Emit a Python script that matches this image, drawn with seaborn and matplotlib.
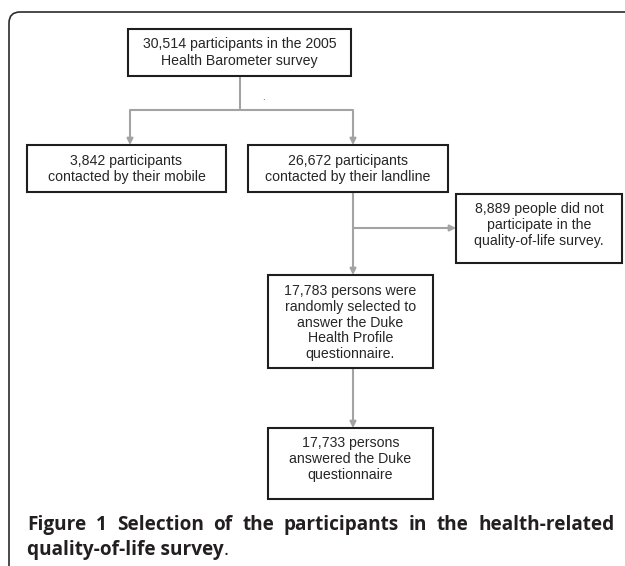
import matplotlib
matplotlib.use("Agg")
import matplotlib.pyplot as plt
from matplotlib.patches import Rectangle, FancyBboxPatch
import seaborn as sns

# ---------------- data ----------------
node_ids = ["survey", "mobile", "landline", "nonpart", "selected", "answered"]
node_counts = [30514, 3842, 26672, 8889, 17783, 17733]
node_text = [
    ["{n} participants in the 2005", "Health Barometer survey"],
    ["{n} participants", "contacted by their mobile"],
    ["{n} participants", "contacted by their landline"],
    ["{n} people did not", "participate in the", "quality-of-life survey."],
    ["{n} persons were", "randomly selected to", "answer the Duke",
     "Health Profile", "questionnaire."],
    ["{n} persons", "answered the Duke", "questionnaire"],
]
caption_line1 = "Figure 1 Selection of the participants in the health-related"
caption_line2 = "quality-of-life survey"

# ---------------- layout (pixel coordinates) ----------------
W, H = 625, 566
box_rect = {  # x0, y0, x1, y1
    "survey":   (128, 29, 351, 76),
    "mobile":   (27, 145, 226, 192),
    "landline": (248, 145, 448, 192),
    "nonpart":  (456, 194, 622, 263),
    "selected": (268, 275, 433, 368),
    "answered": (268, 428, 433, 499),
}
first_baseline = {"survey": 48, "mobile": 165, "landline": 165,
                  "nonpart": 213, "selected": 295, "answered": 447}
line_gap = {"survey": 17, "mobile": 15.5, "landline": 15.5,
            "nonpart": 16, "selected": 15.8, "answered": 16}

box_color = "#1e1e1e"
text_color = "#262626"
link_color = "#a3a3a3"

sns.set_theme(style="white")
plt.rcParams["font.family"] = ["Liberation Sans", "DejaVu Sans"]

fig = plt.figure(figsize=(W / 100, H / 100), dpi=100)
fig.patch.set_facecolor("white")
ax = fig.add_axes([0, 0, 1, 1])
ax.set_xlim(0, W)
ax.set_ylim(H, 0)
ax.axis("off")
sns.despine(ax=ax, left=True, bottom=True)

# outer rounded frame (open on right / bottom)
frame = FancyBboxPatch((9, 12), 800, 800,
                       boxstyle="round,pad=0,rounding_size=11",
                       fill=False, ec="#2b2b2b", lw=1.2, zorder=1)
ax.add_patch(frame)

# boxes and their text
for nid, cnt, lines in zip(node_ids, node_counts, node_text):
    x0, y0, x1, y1 = box_rect[nid]
    ax.add_patch(Rectangle((x0, y0), x1 - x0, y1 - y0, fill=True, fc="white",
                           ec=box_color, lw=1.5, zorder=3))
    cx = (x0 + x1) / 2
    for i, ln in enumerate(lines):
        ax.text(cx, first_baseline[nid] + i * line_gap[nid],
                ln.format(n=f"{cnt:,}"), ha="center", va="baseline",
                fontsize=10.2, color=text_color, zorder=4)


def seg(x0, y0, x1, y1):
    ax.plot([x0, x1], [y0, y1], color=link_color, lw=1.5,
            solid_capstyle="butt", zorder=2)


def arrow(x0, y0, x1, y1):
    ax.annotate("", xy=(x1, y1), xytext=(x0, y0),
                arrowprops=dict(arrowstyle="-|>", color=link_color, lw=1.5,
                                mutation_scale=9, shrinkA=0, shrinkB=0),
                zorder=2)


def bx(nid):
    return box_rect[nid]


# survey -> split -> mobile / landline
s = bx("survey"); m = bx("mobile"); l = bx("landline")
cx_s = (s[0] + s[2]) / 2
split_y = 110
mx, lx = 130, 353
seg(cx_s, s[3], cx_s, split_y)
seg(mx, split_y, lx, split_y)
arrow(mx, split_y, mx, m[1])
arrow(lx, split_y, lx, l[1])
ax.text(263, 100, ".", ha="center", va="baseline", fontsize=7,
        color="#444444", zorder=4)

# landline -> selected, branch -> nonpart
sel = bx("selected"); nonp = bx("nonpart"); ans = bx("answered")
branch_y = 228
arrow(lx, l[3], lx, sel[1])
arrow(lx, branch_y, nonp[0], branch_y)
# selected -> answered
arrow(lx, sel[3], lx, ans[1])

# ---------------- caption (justified first line) ----------------
cap_color = "#231f20"
cap_font = ["Open Sans", "DejaVu Sans"]
renderer = fig.canvas.get_renderer()


def width_of(txt, size, weight="bold"):
    t = ax.text(0, 0, txt, fontsize=size, fontweight=weight, family=cap_font)
    w = t.get_window_extent(renderer=renderer).width
    t.remove()
    return w


size = 12.0
size = size * 196.0 / width_of(caption_line2, size)

x_left, x_right = 27, 615
words = caption_line1.split(" ")
wws = [width_of(w_, size) for w_ in words]
gap = (x_right - x_left - sum(wws)) / (len(words) - 1)
x = x_left
for w_, ww in zip(words, wws):
    ax.text(x, 530, w_, ha="left", va="baseline", fontsize=size,
            fontweight="bold", family=cap_font, color=cap_color)
    x += ww + gap

ax.text(x_left, 555, caption_line2, ha="left", va="baseline", fontsize=size,
        fontweight="bold", family=cap_font, color=cap_color)
w2 = width_of(caption_line2, size)
ax.text(x_left + w2, 555, ".", ha="left", va="baseline", fontsize=size,
        fontweight="normal", family=cap_font, color=cap_color)

fig.savefig("out.png", dpi=100, facecolor="white")
